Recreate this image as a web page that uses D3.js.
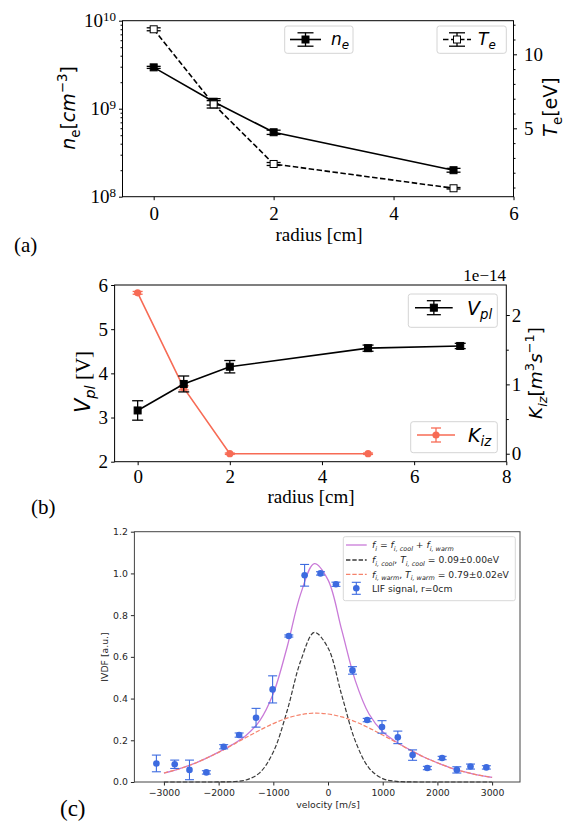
<!DOCTYPE html>
<html>
<head>
<meta charset="utf-8">
<script src="https://cdn.jsdelivr.net/npm/d3@7"></script>
<style>
  body { margin: 0; background: #fff; }
  svg { display: block; }
</style>
</head>
<body>
<svg id="fig" width="565" height="827"></svg>
<script>
// ---- panel (a): density and temperature vs radius
const radiusA = [0, 1, 2, 5];
const neVals = [2.95e9, 1.2e9, 5.4e8, 2.0e8];
const neErr = [0.08e9, 0.1e9, 0.03e9, 0.01e9];
const teVals = [11.69, 6.62, 2.59, 0.95];
const teErr = [0.1, 0.25, 0.1, 0.05];

// ---- panel (b): plasma potential and ionisation rate
const radiusV = [0, 1, 2, 5, 7];
const vplVals = [3.16, 3.76, 4.15, 4.57, 4.62];
const vplErr = [0.22, 0.18, 0.14, 0.07, 0.06];
const radiusK = [0, 1, 2, 5];
const kizVals = [2.32, 0.95, 0.0, 0.0];   // x 1e-14
const kizErr = [0.02, 0.03, 0.01, 0.01];

// ---- panel (c): IVDF
const lifVel = [-3138, -2803, -2533, -2224, -1908, -1625, -1316, -1013, -717, -428, -138,
                145, 447, 717, 987, 1276, 1546, 1816, 2086, 2355, 2605, 2895];
const lifVals = [0.089, 0.085, 0.058, 0.046, 0.169, 0.225, 0.308, 0.444, 0.700, 0.991, 1.0,
                 0.948, 0.535, 0.297, 0.264, 0.214, 0.129, 0.067, 0.115, 0.058, 0.074, 0.070];
const lifErr = [0.04, 0.02, 0.047, 0.008, 0.01, 0.01, 0.045, 0.065, 0.005, 0.052, 0.008,
                0.01, 0.018, 0.008, 0.03, 0.03, 0.025, 0.008, 0.008, 0.015, 0.012, 0.008];
const fitVel = [-3000, -2750, -2500, -2250, -2000, -1750, -1500, -1250, -1000, -750, -500, -250,
                0, 250, 500, 750, 1000, 1250, 1500, 1750, 2000, 2250, 2500, 2750, 3000];
const fitTotal = [0.043, 0.061, 0.083, 0.111, 0.143, 0.179, 0.223, 0.293, 0.424, 0.645, 0.902, 1.047,
                  0.969, 0.729, 0.485, 0.326, 0.241, 0.192, 0.154, 0.120, 0.092, 0.067, 0.048, 0.033, 0.022];
const fitCool = [0, 0, 0, 0, 0.0002, 0.0016, 0.0098, 0.044, 0.144, 0.339, 0.580, 0.717,
                 0.643, 0.417, 0.196, 0.067, 0.016, 0.003, 0.0004, 0, 0, 0, 0, 0, 0];
const fitWarm = [0.043, 0.061, 0.083, 0.111, 0.142, 0.177, 0.213, 0.248, 0.280, 0.306, 0.323, 0.330,
                 0.326, 0.312, 0.289, 0.259, 0.225, 0.189, 0.153, 0.120, 0.092, 0.067, 0.048, 0.033, 0.022];

const SERIF = "'Liberation Serif','Times New Roman',serif";
const SANS = "'DejaVu Sans',sans-serif";
const svg = d3.select("#fig");
svg.append("rect").attr("width", 565).attr("height", 827).attr("fill", "#fff");

// text with sub/superscript parts
function rich(text, parts, base) {
  let shift = 0;
  parts.forEach(p => {
    const target = p.sub ? base * 0.25 : p.sup ? -base * 0.42 : 0;
    const ts = text.append("tspan").attr("dy", target - shift).text(p.t);
    shift = target;
    if (p.it) ts.attr("font-style", "italic");
    if (p.sub || p.sup) ts.attr("font-size", base * 0.7);
    if (p.font) ts.attr("font-family", p.font);
  });
  return text;
}

function styleAxis(g, font, size, color) {
  g.select(".domain").remove();
  g.selectAll(".tick line").attr("stroke", color);
  g.selectAll(".tick text").attr("font-family", font).attr("font-size", size).attr("fill", color);
}

function errBars(g, xs, vs, es, x, y, cap, color, sw) {
  xs.forEach((xv, i) => {
    const cx = x(xv), lo = y(vs[i] - es[i]), hi = y(vs[i] + es[i]);
    g.append("line").attr("x1", cx).attr("x2", cx).attr("y1", lo).attr("y2", hi)
      .attr("stroke", color).attr("stroke-width", sw);
    [lo, hi].forEach(yy => g.append("line")
      .attr("x1", cx - cap).attr("x2", cx + cap).attr("y1", yy).attr("y2", yy)
      .attr("stroke", color).attr("stroke-width", sw));
  });
}

function legendGlyph(g, x1, x2, y, color, dash, markerFn, vh, cap) {
  const cx = (x1 + x2) / 2;
  g.append("line").attr("x1", x1).attr("x2", x2).attr("y1", y).attr("y2", y)
    .attr("stroke", color).attr("stroke-width", 1.6).attr("stroke-dasharray", dash);
  g.append("line").attr("x1", cx).attr("x2", cx).attr("y1", y - vh).attr("y2", y + vh)
    .attr("stroke", color).attr("stroke-width", 1.3);
  [y - vh, y + vh].forEach(yy => g.append("line").attr("x1", cx - cap).attr("x2", cx + cap)
    .attr("y1", yy).attr("y2", yy).attr("stroke", color).attr("stroke-width", 1.3));
  markerFn(g, cx, y);
}

const square = (fill, s) => (g, cx, cy) => g.append("rect")
  .attr("x", cx - s / 2).attr("y", cy - s / 2).attr("width", s).attr("height", s)
  .attr("fill", fill).attr("stroke", "#000").attr("stroke-width", 1);
const dot = (fill, r) => (g, cx, cy) => g.append("circle")
  .attr("cx", cx).attr("cy", cy).attr("r", r).attr("fill", fill);

// =================== (a) ===================
{
  const L = 122.5, R = 513.5, T = 20.7, B = 196.7;
  const x = d3.scaleLinear().domain([-0.52, 6]).range([L, R]);
  const y = d3.scaleLog().domain([1e8, 1e10]).range([B, T]);
  const yT = d3.scaleLinear().domain([0.38, 12.27]).range([B, T]);
  const g = svg.append("g");

  const xAx = g.append("g").attr("transform", `translate(0,${B})`)
    .call(d3.axisBottom(x).tickValues([0, 2, 4, 6]).tickSize(3.5).tickPadding(6).tickFormat(d3.format("d")));
  styleAxis(xAx, SERIF, 19, "#000");

  const majors = [1e8, 1e9, 1e10];
  const minors = y.ticks().filter(d => !majors.some(m => Math.abs(m - d) / m < 1e-6));
  const yMin = g.append("g").attr("transform", `translate(${L},0)`)
    .call(d3.axisLeft(y).tickValues(minors).tickSize(2).tickFormat(""));
  styleAxis(yMin, SERIF, 19, "#000");
  const yAx = g.append("g").attr("transform", `translate(${L},0)`)
    .call(d3.axisLeft(y).tickValues(majors).tickSize(3.5).tickPadding(3).tickFormat(() => "10"));
  styleAxis(yAx, SERIF, 19, "#000");
  yAx.selectAll(".tick text").each(function(d) {
    d3.select(this).append("tspan").attr("dy", "-0.5em").attr("font-size", 13)
      .text(Math.round(Math.log10(d)));
  });

  const tMin = g.append("g").attr("transform", `translate(${R},0)`)
    .call(d3.axisRight(yT).tickValues(d3.range(1, 13).filter(d => d % 5)).tickSize(2).tickFormat(""));
  styleAxis(tMin, SERIF, 19, "#000");
  const tAx = g.append("g").attr("transform", `translate(${R},0)`)
    .call(d3.axisRight(yT).tickValues([5, 10]).tickSize(3.5).tickPadding(7).tickFormat(d3.format("d")));
  styleAxis(tAx, SERIF, 19, "#000");

  g.append("rect").attr("x", L).attr("y", T).attr("width", R - L).attr("height", B - T)
    .attr("fill", "none").attr("stroke", "#000").attr("stroke-width", 1);

  const neLine = d3.line().x((d, i) => x(radiusA[i])).y(d => y(d));
  g.append("path").datum(neVals).attr("d", neLine).attr("fill", "none")
    .attr("stroke", "#000").attr("stroke-width", 1.6);
  errBars(g, radiusA, neVals, neErr, x, y, 7, "#000", 1.3);
  radiusA.forEach((r, i) => square("#000", 7)(g, x(r), y(neVals[i])));

  const teLine = d3.line().x((d, i) => x(radiusA[i])).y(d => yT(d));
  g.append("path").datum(teVals).attr("d", teLine).attr("fill", "none")
    .attr("stroke", "#000").attr("stroke-width", 1.6).attr("stroke-dasharray", "5.5,2.5");
  errBars(g, radiusA, teVals, teErr, x, yT, 7, "#000", 1.3);
  radiusA.forEach((r, i) => square("#fff", 7)(g, x(r), yT(teVals[i])));

  // legends
  g.append("rect").attr("x", 284.7).attr("y", 26).attr("width", 68.3).attr("height", 27.3)
    .attr("rx", 2.5).attr("fill", "#fff").attr("stroke", "#d4d4d4");
  legendGlyph(g, 290, 321, 39.5, "#000", null, square("#000", 7), 6.7, 8);
  rich(g.append("text").attr("x", 331).attr("y", 45).attr("font-family", SANS).attr("font-size", 17),
    [{ t: "n", it: true }, { t: "e", it: true, sub: true }], 17);

  g.append("rect").attr("x", 437).attr("y", 26).attr("width", 69.3).attr("height", 27.3)
    .attr("rx", 2.5).attr("fill", "#fff").attr("stroke", "#d4d4d4");
  legendGlyph(g, 443, 471, 39.5, "#000", "5.5,2.5", square("#fff", 7), 6.7, 8);
  rich(g.append("text").attr("x", 478).attr("y", 45).attr("font-family", SANS).attr("font-size", 17),
    [{ t: "T", it: true }, { t: "e", it: true, sub: true }], 17);

  rich(g.append("text").attr("transform", "translate(75,108) rotate(-90)").attr("text-anchor", "middle")
    .attr("font-family", SANS).attr("font-size", 19),
    [{ t: "n", it: true }, { t: "e", sub: true }, { t: "[" }, { t: "cm", it: true },
     { t: "−3", sup: true }, { t: "]" }], 19);
  rich(g.append("text").attr("transform", "translate(557,107) rotate(-90)").attr("text-anchor", "middle")
    .attr("font-family", SANS).attr("font-size", 19),
    [{ t: "T", it: true }, { t: "e", sub: true }, { t: "[eV]" }], 19);
  g.append("text").attr("x", 319).attr("y", 241).attr("text-anchor", "middle")
    .attr("font-family", SERIF).attr("font-size", 19).text("radius [cm]");
  g.append("text").attr("x", 14).attr("y", 252).attr("font-family", SERIF).attr("font-size", 21).text("(a)");
}

// =================== (b) ===================
{
  const L = 114.6, R = 506.3, T = 285, B = 461.7;
  const x = d3.scaleLinear().domain([-0.5, 8]).range([L, R]);
  const y = d3.scaleLinear().domain([2, 6]).range([B, T]);
  const yK = d3.scaleLinear().domain([-0.115, 2.433]).range([B, T]);
  const g = svg.append("g");

  const xAx = g.append("g").attr("transform", `translate(0,${B})`)
    .call(d3.axisBottom(x).tickValues([0, 2, 4, 6, 8]).tickSize(3.5).tickPadding(4).tickFormat(d3.format("d")));
  styleAxis(xAx, SERIF, 19, "#000");
  const yAx = g.append("g").attr("transform", `translate(${L},0)`)
    .call(d3.axisLeft(y).tickValues([2, 3, 4, 5, 6]).tickSize(3.5).tickPadding(3).tickFormat(d3.format("d")));
  styleAxis(yAx, SERIF, 19, "#000");
  const kMin = g.append("g").attr("transform", `translate(${R},0)`)
    .call(d3.axisRight(yK).tickValues([0.5, 1.5]).tickSize(2.5).tickFormat(""));
  styleAxis(kMin, SERIF, 19, "#000");
  const kAx = g.append("g").attr("transform", `translate(${R},0)`)
    .call(d3.axisRight(yK).tickValues([0, 1, 2]).tickSize(3.5).tickPadding(2).tickFormat(d3.format("d")));
  styleAxis(kAx, SERIF, 19, "#000");

  g.append("rect").attr("x", L).attr("y", T).attr("width", R - L).attr("height", B - T)
    .attr("fill", "none").attr("stroke", "#000").attr("stroke-width", 1);

  const kColor = "#f76b55";
  const kLine = d3.line().x((d, i) => x(radiusK[i])).y(d => yK(d));
  g.append("path").datum(kizVals).attr("d", kLine).attr("fill", "none")
    .attr("stroke", kColor).attr("stroke-width", 1.6);
  errBars(g, radiusK, kizVals, kizErr, x, yK, 5, kColor, 1.3);
  radiusK.forEach((r, i) => dot(kColor, 3.6)(g, x(r), yK(kizVals[i])));

  const vLine = d3.line().x((d, i) => x(radiusV[i])).y(d => y(d));
  g.append("path").datum(vplVals).attr("d", vLine).attr("fill", "none")
    .attr("stroke", "#000").attr("stroke-width", 1.6);
  errBars(g, radiusV, vplVals, vplErr, x, y, 5.5, "#000", 1.3);
  radiusV.forEach((r, i) => square("#000", 7)(g, x(r), y(vplVals[i])));

  // legends
  g.append("rect").attr("x", 408.3).attr("y", 294).attr("width", 89).attr("height", 33.3)
    .attr("rx", 2.5).attr("fill", "#fff").attr("stroke", "#d4d4d4");
  legendGlyph(g, 415, 452.7, 307.7, "#000", null, square("#000", 7), 7, 7);
  rich(g.append("text").attr("x", 467).attr("y", 314.5).attr("font-family", SANS).attr("font-size", 19),
    [{ t: "V", it: true }, { t: "pl", it: true, sub: true }], 19);

  g.append("rect").attr("x", 410.7).attr("y", 421.7).attr("width", 86.6).attr("height", 31)
    .attr("rx", 2.5).attr("fill", "#fff").attr("stroke", "#d4d4d4");
  legendGlyph(g, 417, 455, 435, kColor, null, dot(kColor, 3.6), 7, 5);
  rich(g.append("text").attr("x", 468).attr("y", 441.5).attr("font-family", SANS).attr("font-size", 19),
    [{ t: "K", it: true }, { t: "iz", it: true, sub: true }], 19);

  g.append("text").attr("x", 506).attr("y", 281).attr("text-anchor", "end")
    .attr("font-family", SERIF).attr("font-size", 17).text("1e−14");

  rich(g.append("text").attr("transform", "translate(90,382) rotate(-90)").attr("text-anchor", "middle")
    .attr("font-family", SANS).attr("font-size", 21),
    [{ t: "V", it: true }, { t: "pl", it: true, sub: true }, { t: " [V]", font: SERIF }], 21);
  rich(g.append("text").attr("transform", "translate(542,373) rotate(-90)").attr("text-anchor", "middle")
    .attr("font-family", SANS).attr("font-size", 18.5),
    [{ t: "K", it: true }, { t: "iz", it: true, sub: true }, { t: "[" }, { t: "m", it: true },
     { t: "3", sup: true }, { t: "s", it: true }, { t: "−1", sup: true }, { t: "]" }], 18.5);
  g.append("text").attr("x", 311).attr("y", 503).attr("text-anchor", "middle")
    .attr("font-family", SERIF).attr("font-size", 19).text("radius [cm]");
  g.append("text").attr("x", 31).attr("y", 514).attr("font-family", SERIF).attr("font-size", 21).text("(b)");
}

// =================== (c) ===================
{
  const L = 134.4, R = 520, T = 531.7, B = 782;
  const x = d3.scaleLinear().domain([-3540, 3510]).range([L, R]);
  const y = d3.scaleLinear().domain([0, 1.2]).range([B, T]);
  const g = svg.append("g");
  const ink = "#262626";

  const xAx = g.append("g").attr("transform", `translate(0,${B})`)
    .call(d3.axisBottom(x).tickValues(d3.range(-3000, 3001, 1000)).tickSize(3.5).tickPadding(3.5).tickFormat(d3.format("d")));
  styleAxis(xAx, SANS, 9.3, ink);
  const yAx = g.append("g").attr("transform", `translate(${L},0)`)
    .call(d3.axisLeft(y).tickValues(d3.range(0, 1.21, 0.2)).tickSize(3.5).tickPadding(3).tickFormat(d3.format(".1f")));
  styleAxis(yAx, SANS, 9.3, ink);

  g.append("rect").attr("x", L).attr("y", T).attr("width", R - L).attr("height", B - T)
    .attr("fill", "none").attr("stroke", "#444").attr("stroke-width", 1);

  const curve = vals => d3.line().x((d, i) => x(fitVel[i])).y(d => y(d)).curve(d3.curveCatmullRom)(vals);
  const totColor = "#c97ad8", warmColor = "#f5836c", coolColor = "#3a3a3a", lifColor = "#3d6be0";
  g.append("path").attr("d", curve(fitTotal)).attr("fill", "none").attr("stroke", totColor).attr("stroke-width", 1.3);
  g.append("path").attr("d", curve(fitCool)).attr("fill", "none").attr("stroke", coolColor)
    .attr("stroke-width", 1.2).attr("stroke-dasharray", "4.4,1.9");
  g.append("path").attr("d", curve(fitWarm)).attr("fill", "none").attr("stroke", warmColor)
    .attr("stroke-width", 1.2).attr("stroke-dasharray", "4.4,1.9");

  errBars(g, lifVel, lifVals, lifErr, x, y, 4.5, lifColor, 1.1);
  lifVel.forEach((v, i) => dot(lifColor, 3.3)(g, x(v), y(lifVals[i])));

  // legend
  const lg = g.append("g");
  lg.append("rect").attr("x", 343.3).attr("y", 536.7).attr("width", 172).attr("height", 64)
    .attr("rx", 2).attr("fill", "#fff").attr("fill-opacity", 0.85).attr("stroke", "#d8d8d8");
  const rowsY = [545, 560, 574.3, 588.3];
  const sampleLine = (yy, color, dash) => lg.append("line").attr("x1", 346).attr("x2", 366.7)
    .attr("y1", yy).attr("y2", yy).attr("stroke", color).attr("stroke-width", 1.3).attr("stroke-dasharray", dash);
  sampleLine(rowsY[0], totColor, null);
  sampleLine(rowsY[1], coolColor, "4.4,1.9");
  sampleLine(rowsY[2], warmColor, "4.4,1.9");
  const cx = 356.3, cy = rowsY[3];
  lg.append("line").attr("x1", cx).attr("x2", cx).attr("y1", cy - 6).attr("y2", cy + 6)
    .attr("stroke", lifColor).attr("stroke-width", 1.1);
  [cy - 6, cy + 6].forEach(yy => lg.append("line").attr("x1", cx - 4.5).attr("x2", cx + 4.5)
    .attr("y1", yy).attr("y2", yy).attr("stroke", lifColor).attr("stroke-width", 1.1));
  dot(lifColor, 3.3)(lg, cx, cy);

  const lt = yy => lg.append("text").attr("x", 372).attr("y", yy + 3.3)
    .attr("font-family", SANS).attr("font-size", 9.2).attr("fill", ink);
  rich(lt(rowsY[0]), [{ t: "f", it: true }, { t: "i", it: true, sub: true }, { t: " = " },
    { t: "f", it: true }, { t: "i, cool", it: true, sub: true }, { t: " + " },
    { t: "f", it: true }, { t: "i, warm", it: true, sub: true }], 9.2);
  rich(lt(rowsY[1]), [{ t: "f", it: true }, { t: "i, cool", it: true, sub: true }, { t: ", " },
    { t: "T", it: true }, { t: "i, cool", it: true, sub: true }, { t: " = 0.09±0.00eV" }], 9.2);
  rich(lt(rowsY[2]), [{ t: "f", it: true }, { t: "i, warm", it: true, sub: true }, { t: ", " },
    { t: "T", it: true }, { t: "i, warm", it: true, sub: true }, { t: " = 0.79±0.02eV" }], 9.2);
  lt(rowsY[3]).text("LIF signal, r=0cm");

  g.append("text").attr("x", 328).attr("y", 808).attr("text-anchor", "middle")
    .attr("font-family", SANS).attr("font-size", 9.3).attr("fill", ink).text("velocity [m/s]");
  g.append("text").attr("transform", "translate(108,657) rotate(-90)").attr("text-anchor", "middle")
    .attr("font-family", SANS).attr("font-size", 9.3).attr("fill", ink).text("IVDF [a.u.]");
  g.append("text").attr("x", 60).attr("y", 816).attr("font-family", SERIF).attr("font-size", 23).text("(c)");
}
</script>
</body>
</html>
